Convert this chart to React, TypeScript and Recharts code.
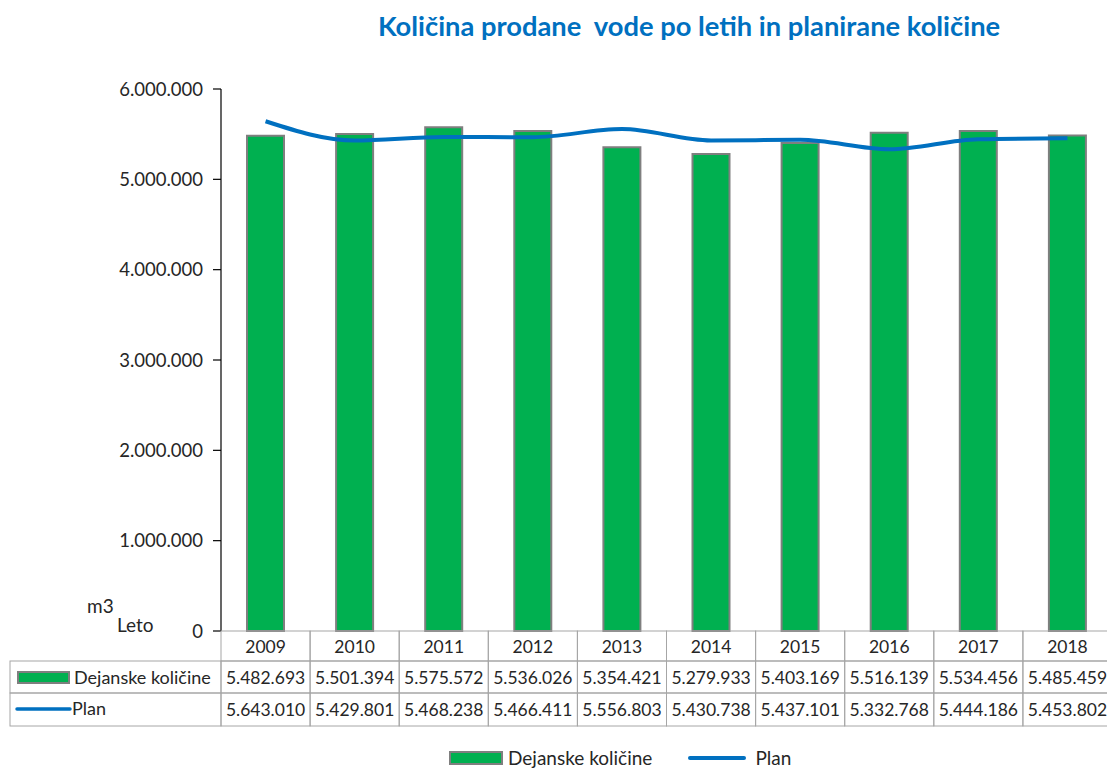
import { ComposedChart, Bar, Line, XAxis, YAxis } from 'recharts';

const years = ['2009', '2010', '2011', '2012', '2013', '2014', '2015', '2016', '2017', '2018'];
const actual = [5482693, 5501394, 5575572, 5536026, 5354421, 5279933, 5403169, 5516139, 5534456, 5485459];
const plan = [5643010, 5429801, 5468238, 5466411, 5556803, 5430738, 5437101, 5332768, 5444186, 5453802];
const yTicks = [0, 1000000, 2000000, 3000000, 4000000, 5000000, 6000000];

const GREEN = '#00b050';
const BLUE = '#0070c0';
const GRID = '#a6a6a6';
const FONT = 'Lato, "Open Sans", sans-serif';

const fmt = (v: number) => String(v).replace(/\B(?=(\d{3})+(?!\d))/g, '.');

const data = years.map((y, i) => ({ year: y, actual: actual[i], plan: plan[i] }));

const CELL_W = 89.1;
const ROW1 = 30;
const ROW2 = 32;
const ROW3 = 33;

function TableTick(props: any) {
  const { x, y, payload, index } = props;
  const left = x - CELL_W / 2;
  const i = index;
  const txt = { fontFamily: FONT, fontSize: 17.5, fill: '#262626', textAnchor: 'middle' as const };
  return (
    <g>
      <rect x={left} y={y} width={CELL_W} height={ROW1} fill="none" stroke={GRID} />
      <rect x={left} y={y + ROW1} width={CELL_W} height={ROW2} fill="none" stroke={GRID} />
      <rect x={left} y={y + ROW1 + ROW2} width={CELL_W} height={ROW3} fill="none" stroke={GRID} />
      <text x={x} y={y + 22} {...txt}>{payload.value}</text>
      <text x={x} y={y + ROW1 + 23} {...txt}>{fmt(actual[i])}</text>
      <text x={x} y={y + ROW1 + ROW2 + 23} {...txt}>{fmt(plan[i])}</text>
      {i === 0 && (
        <g>
          <rect x={10} y={y + ROW1} width={left - 10} height={ROW2} fill="none" stroke={GRID} />
          <rect x={10} y={y + ROW1 + ROW2} width={left - 10} height={ROW3} fill="none" stroke={GRID} />
          <rect x={18} y={y + ROW1 + 11} width={51} height={11} fill={GREEN} stroke="#7f7f7f" strokeWidth={2} />
          <text x={74} y={y + ROW1 + 23} fontFamily={FONT} fontSize={18} fill="#262626">Dejanske količine</text>
          <line x1={17} x2={70} y1={y + ROW1 + ROW2 + 16} y2={y + ROW1 + ROW2 + 16} stroke={BLUE} strokeWidth={3.5} strokeLinecap="round" />
          <text x={72} y={y + ROW1 + ROW2 + 22} fontFamily={FONT} fontSize={18} fill="#262626">Plan</text>
        </g>
      )}
    </g>
  );
}

function BottomLegend() {
  return (
    <div style={{ position: 'absolute', left: 449, top: 748, lineHeight: '20px', display: 'flex', alignItems: 'center', fontFamily: FONT, fontSize: 19, color: '#262626', whiteSpace: 'nowrap' }}>
      <span style={{ display: 'inline-block', width: 50, height: 10, background: GREEN, border: '2px solid #7f7f7f', marginRight: 5 }} />
      <span style={{ marginRight: 36 }}>Dejanske količine</span>
      <span style={{ display: 'inline-block', width: 58, height: 4, background: BLUE, borderRadius: 2, marginRight: 9 }} />
      <span>Plan</span>
    </div>
  );
}

export default function App() {
  return (
    <div style={{ position: 'absolute', left: 0, top: 0, width: 1107, height: 770, overflow: 'hidden', background: '#fff' }}>
      <div style={{ position: 'absolute', left: 0, top: 9, width: 1378, textAlign: 'center', fontFamily: FONT, fontWeight: 700, fontSize: 27.3, color: BLUE, whiteSpace: 'pre' }}>
        Količina prodane  vode po letih in planirane količine
      </div>
      <div style={{ position: 'absolute', left: 87, top: 594, fontFamily: FONT, fontSize: 19, color: '#262626' }}>m3</div>
      <div style={{ position: 'absolute', left: 117, top: 613, fontFamily: FONT, fontSize: 19, color: '#262626' }}>Leto</div>
      <ComposedChart
        width={1120}
        height={770}
        data={data}
        margin={{ top: 89, right: 8, bottom: 0, left: 121 }}
        barCategoryGap={0}
      >
        <XAxis
          dataKey="year"
          axisLine={false}
          tickLine={false}
          tickSize={0}
          tickMargin={0}
          height={139}
          interval={0}
          tick={<TableTick />}
        />
        <YAxis
          domain={[0, 6000000]}
          ticks={yTicks}
          width={100}
          axisLine={{ stroke: '#000', strokeWidth: 1.2 }}
          tickLine={{ stroke: '#000', strokeWidth: 1.2 }}
          tickSize={8}
          tickMargin={10}
          tickFormatter={fmt}
          tick={{ fontFamily: FONT, fontSize: 18.5, fill: '#262626' }}
        />
        <Bar dataKey="actual" name="Dejanske količine" fill={GREEN} stroke="#7f7f7f" strokeWidth={2} barSize={37} isAnimationActive={false} />
        <Line dataKey="plan" name="Plan" type="monotone" stroke={BLUE} strokeWidth={4} dot={false} isAnimationActive={false} />
      </ComposedChart>
      <BottomLegend />
    </div>
  );
}
